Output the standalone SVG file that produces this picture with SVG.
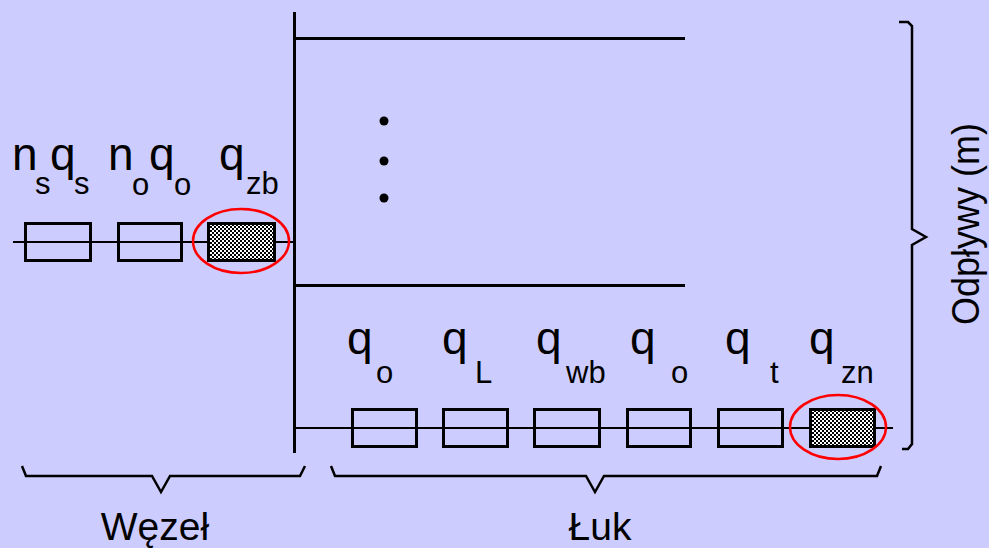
<svg xmlns="http://www.w3.org/2000/svg" width="989" height="548" viewBox="0 0 989 548">
  <style>
    .bg { fill: #CCCCFF; }
    .box { fill: none; stroke: #000; stroke-width: 3; }
    .hatch { fill: url(#checker); stroke: #000; stroke-width: 3; }
    .wire { stroke: #000; stroke-width: 2; fill: none; }
    .bar { stroke: #000; stroke-width: 3; fill: none; }
    .brace { stroke: #000; stroke-width: 2.5; fill: none; stroke-linejoin: miter; }
    .mark { fill: none; stroke: #FF0000; stroke-width: 2.5; }
    .lbl { font-family: "Liberation Sans", Arial, sans-serif; font-size: 46px; fill: #000; }
    .sub { font-family: "Liberation Sans", Arial, sans-serif; font-size: 31px; fill: #000; }
    .cap { font-family: "Liberation Sans", Arial, sans-serif; font-size: 39px; fill: #000; }
  </style>
  <defs>
    <pattern id="checker" width="4" height="4" patternUnits="userSpaceOnUse">
      <rect width="4" height="4" fill="#FFFFFF"/>
      <rect x="0" y="0" width="2" height="2" fill="#000"/>
      <rect x="2" y="2" width="2" height="2" fill="#000"/>
    </pattern>
  </defs>

  <rect class="bg" x="0" y="0" width="989" height="548"/>

  <!-- connectors: wires, bus lines and braces -->
  <g id="connectors">
    <line class="wire" x1="13" y1="242" x2="293" y2="242"/>
    <line class="wire" x1="294" y1="428" x2="893" y2="428"/>
    <line class="bar" x1="294.5" y1="12" x2="294.5" y2="453"/>
    <line class="bar" x1="294" y1="38.5" x2="685" y2="38.5"/>
    <line class="bar" x1="294" y1="285.5" x2="685" y2="285.5"/>
    <!-- right brace -->
    <path class="brace" d="M899,22 L908,22 L912,26 L912,229 L926,237 L912,245 L912,444 L908,449 L902,449"/>
    <!-- bottom braces -->
    <path class="brace" d="M22,466 L26,476 L152,476 L161,492 L170,476 L300,476 L305,466"/>
    <path class="brace" d="M331,466 L335,476 L586,476 L595,492 L604,476 L877,476 L881,466"/>
  </g>

  <!-- continuation dots -->
  <g id="dots">
    <circle cx="384" cy="121" r="4.5" fill="#000"/>
    <circle cx="384" cy="161" r="4.5" fill="#000"/>
    <circle cx="384" cy="198" r="4.5" fill="#000"/>
  </g>

  <!-- node chain -->
  <g id="node-ns">
    <rect class="box" x="25.5" y="223.5" width="65" height="37" fill="none"/>
    <text class="lbl" x="12" y="170">n</text><text class="sub" x="35" y="194">s</text>
    <text class="lbl" x="50" y="170">q</text><text class="sub" x="74" y="194">s</text>
  </g>
  <g id="node-no">
    <rect class="box" x="118.5" y="223.5" width="63" height="37"/>
    <text class="lbl" x="108" y="170">n</text><text class="sub" x="132" y="195">o</text>
    <text class="lbl" x="149" y="170">q</text><text class="sub" x="174" y="195">o</text>
  </g>
  <g id="node-qzb">
    <rect class="hatch" x="208.5" y="223.5" width="66" height="37"/>
    <ellipse class="mark" cx="241" cy="241" rx="48" ry="32"/>
    <text class="lbl" x="219" y="170">q</text><text class="sub" x="246" y="194">zb</text>
  </g>

  <!-- arc chain -->
  <g id="arc-qo1">
    <rect class="box" x="352.5" y="409.5" width="64" height="37"/>
    <text class="lbl" x="347" y="354">q</text><text class="sub" x="376" y="383">o</text>
  </g>
  <g id="arc-qL">
    <rect class="box" x="443.5" y="409.5" width="64" height="37"/>
    <text class="lbl" x="442" y="354">q</text><text class="sub" x="475" y="383">L</text>
  </g>
  <g id="arc-qwb">
    <rect class="box" x="534.5" y="409.5" width="65" height="37"/>
    <text class="lbl" x="536" y="354">q</text><text class="sub" x="566" y="383">wb</text>
  </g>
  <g id="arc-qo2">
    <rect class="box" x="627.5" y="409.5" width="63" height="37"/>
    <text class="lbl" x="630" y="354">q</text><text class="sub" x="671" y="383">o</text>
  </g>
  <g id="arc-qt">
    <rect class="box" x="718.5" y="409.5" width="64" height="37"/>
    <text class="lbl" x="725" y="354">q</text><text class="sub" x="770" y="383">t</text>
  </g>
  <g id="arc-qzn">
    <rect class="hatch" x="810.5" y="409.5" width="64" height="37"/>
    <ellipse class="mark" cx="838" cy="427" rx="48" ry="32"/>
    <text class="lbl" x="809" y="354">q</text><text class="sub" x="841" y="383">zn</text>
  </g>

  <!-- captions -->
  <g id="captions">
    <text class="cap" x="155" y="540" text-anchor="middle">Węzeł</text>
    <text class="cap" x="600" y="540" text-anchor="middle">Łuk</text>
    <text class="cap" transform="translate(979,224) rotate(-90)" x="0" y="0" text-anchor="middle" textLength="202" lengthAdjust="spacingAndGlyphs">Odpływy (m)</text>
  </g>
</svg>
